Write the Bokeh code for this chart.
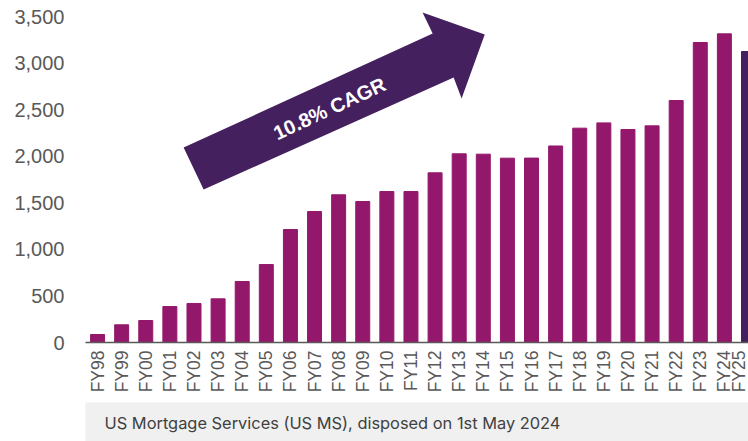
import math
from bokeh.plotting import figure
from bokeh.layouts import column
from bokeh.models import (ColumnDataSource, Range1d, FixedTicker, NumeralTickFormatter, Label)
from bokeh.core.properties import value
from bokeh.embed import file_html
from bokeh.resources import INLINE

# ---- data ----
categories = ["FY98", "FY99", "FY00", "FY01", "FY02", "FY03", "FY04", "FY05", "FY06", "FY07",
              "FY08", "FY09", "FY10", "FY11", "FY12", "FY13", "FY14", "FY15", "FY16", "FY17",
              "FY18", "FY19", "FY20", "FY21", "FY22", "FY23", "FY24", "FY25"]
values = [86, 190, 236, 386, 419, 469, 655, 837, 1213, 1406,
          1586, 1514, 1621, 1621, 1822, 2026, 2022, 1979, 1980, 2110,
          2301, 2358, 2287, 2326, 2598, 3221, 3314, 3124]
y_ticks = [0, 500, 1000, 1500, 2000, 2500, 3000, 3500]
cagr_text = "10.8% CAGR"
footer_text = "US Mortgage Services (US MS), disposed on 1st May 2024"
latest = "FY25"

# ---- styles ----
BAR = "#93186C"
DARK = "#45205F"
AXIS_GREY = "#595959"
FONT = "Liberation Sans"

xs = list(range(len(categories)))
colors = [DARK if c == latest else BAR for c in categories]
src = ColumnDataSource(dict(x=xs, top=values, color=colors, cat=categories))

p = figure(width=748, height=402, output_backend="svg", toolbar_location=None,
           x_range=Range1d(-0.5, 27.0), y_range=Range1d(0, 3586),
           min_border_left=85, min_border_right=0, min_border_top=8, min_border_bottom=60)
p.outline_line_color = None
p.xgrid.visible = False
p.ygrid.visible = False
p.background_fill_color = "white"
p.border_fill_color = "white"

p.vbar(x="x", top="top", width=0.58, color="color", source=src)

# arrow annotation (x in category index units, y in value units)
arrow_x = [3.57, 13.90, 13.48, 16.06, 15.10, 14.77, 4.40]
arrow_y = [2093, 3317, 3543, 3307, 2620, 2845, 1643]
p.patch(arrow_x, arrow_y, fill_color=DARK, line_color=None)
p.text(x=[9.62], y=[2512], text=[cagr_text], angle=25, angle_units="deg",
       text_align="center", text_baseline="middle", text_color="white",
       text_font=value(FONT), text_font_style="bold", text_font_size="20px")

# axes
xa = p.xaxis[0]
xa.ticker = FixedTicker(ticks=xs)
xa.major_label_overrides = {i: c for i, c in zip(xs, categories)}
xa.major_label_orientation = math.pi / 2
xa.axis_line_color = AXIS_GREY
xa.axis_line_width = 1.5
xa.major_tick_line_color = None
xa.minor_tick_line_color = None
xa.major_tick_out = 0
xa.major_label_standoff = 8
xa.major_label_text_font = FONT
xa.major_label_text_font_size = "17.5px"
xa.major_label_text_color = AXIS_GREY

ya = p.yaxis[0]
ya.ticker = FixedTicker(ticks=y_ticks)
ya.formatter = NumeralTickFormatter(format="0,0")
ya.axis_line_color = None
ya.major_tick_line_color = None
ya.minor_tick_line_color = None
ya.major_tick_out = 0
ya.major_label_standoff = 21
ya.major_label_text_font = FONT
ya.major_label_text_font_size = "20px"
ya.major_label_text_color = AXIS_GREY

# footer band
f = figure(width=748, height=39, output_backend="svg", toolbar_location=None,
           x_range=Range1d(0, 1), y_range=Range1d(0, 1),
           x_axis_location=None, y_axis_location=None,
           min_border_left=85, min_border_right=0, min_border_top=0, min_border_bottom=0)
f.outline_line_color = None
f.xgrid.visible = False
f.ygrid.visible = False
f.background_fill_color = "#F0F0F0"
f.border_fill_color = "white"
f.add_layout(Label(x=0.0287, y=0.47, text=footer_text, text_baseline="middle",
                   text_font="Inter", text_font_size="16.4px", text_color="#404040"))

layout = column(p, f, spacing=0)
open("out.html", "w").write(file_html(layout, INLINE))
